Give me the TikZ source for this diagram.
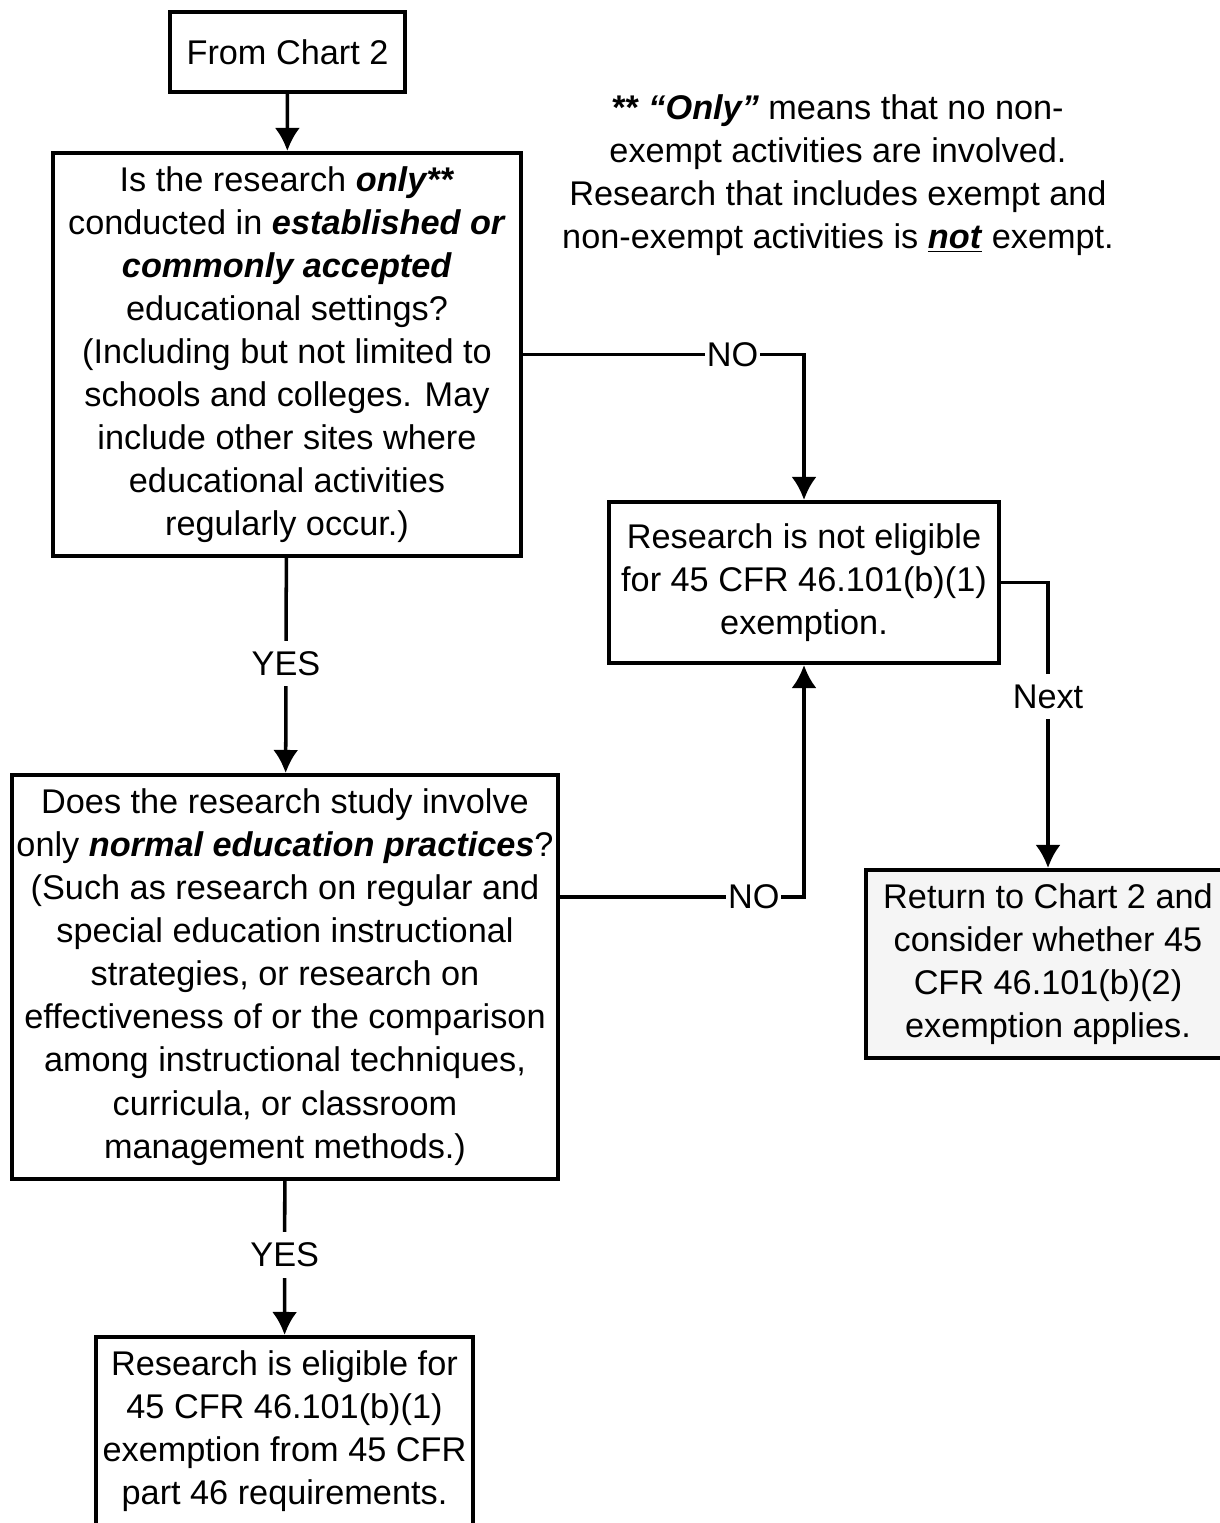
\documentclass[tikz,border=0pt]{standalone}
\usepackage{fontspec}
\setmainfont{Liberation Sans}
\usepackage{tikz}
\usetikzlibrary{positioning, calc, arrows.meta}
\newcommand{\bfit}[1]{\textbf{\textit{#1}}}

\begin{document}
\begin{tikzpicture}[
    > = {Latex[length=4.6mm, width=5mm]}, align=center,
    font = \fontsize{19.5}{24.5}\selectfont,
    box/.style = {
      rectangle, draw, line width = 2.3pt, inner sep = 0pt
    },
    path/.style = {
      ->, line width = 2pt
    },
    answer/.style = {
      fill = white, inner xsep = 1pt, inner ysep = 6pt
    },
    ]
\useasboundingbox (0,0) rectangle (24.38,-30.46);

\node  [box, minimum width = 4.7cm, minimum height = 1.6cm]  (from_chart)  at (5.75,-1.04)  {From Chart 2};
\node  [box, minimum width = 9.36cm, minimum height = 8.06cm]  (q_settings)  at (5.74,-7.09)
  {Is the research \bfit{only**}\\
   conducted in \bfit{established or}\\
   \bfit{commonly accepted}\\
   educational settings?\\
   (Including but not limited to\\
   schools and colleges. May\\
   include other sites where\\
   educational activities\\
   regularly occur.)};
\node  [box, minimum width = 7.8cm, minimum height = 3.22cm]  (not_eligible)  at (16.08,-11.65)
  {Research is not eligible\\
   for 45 CFR 46.101(b)(1)\\
   exemption.};
\node  [box, minimum width = 10.92cm, minimum height = 8.08cm]  (q_practices)  at (5.70,-19.54)
  {Does the research study involve\\
   only \bfit{normal education practices}?\\
   (Such as research on regular and\\
   special education instructional\\
   strategies, or research on\\
   effectiveness of or the comparison\\
   among instructional techniques,\\
   curricula, or classroom\\
   management methods.)};
\node  [box, fill = gray!8, minimum width = 7.28cm, minimum height = 3.76cm]  (return_chart)  at (20.96,-19.28)
  {Return to Chart 2 and\\
   consider whether 45\\
   CFR 46.101(b)(2)\\
   exemption applies.};
\node  [box, minimum width = 7.54cm, minimum height = 3.76cm]  (eligible)  at (5.69,-28.62)
  {Research is eligible for\\
   45 CFR 46.101(b)(1)\\
   exemption from 45 CFR\\
   part 46 requirements.};
\node  (only_note)  at (16.76,-3.5)
  {\textbf{**} \bfit{“Only”} means that no non-\\
   exempt activities are involved.\\
   Research that includes exempt and\\
   non-exempt activities is \underline{\bfit{not}} exempt.};

\draw  [path]  (from_chart)  --  (q_settings);
\draw  [path]  (q_settings.east)  -|  node  [answer, pos = 0.373]  {NO}  (not_eligible.north);
\draw  [path]  (q_settings)  --  node  [answer, pos = 0.49]  {YES}  (q_practices);
\draw  [path]  ([yshift = 1.6cm]q_practices.east)  -|  node  [answer, pos = 0.397]  {NO}  (not_eligible.south);
\draw  [path]  (not_eligible.east)  -|  node  [answer, pos = 0.70]  {Next}  (return_chart.north);
\draw  [path]  (q_practices)  --  node  [answer, pos = 0.48]  {YES}  (eligible);

\end{tikzpicture}
\end{document}
